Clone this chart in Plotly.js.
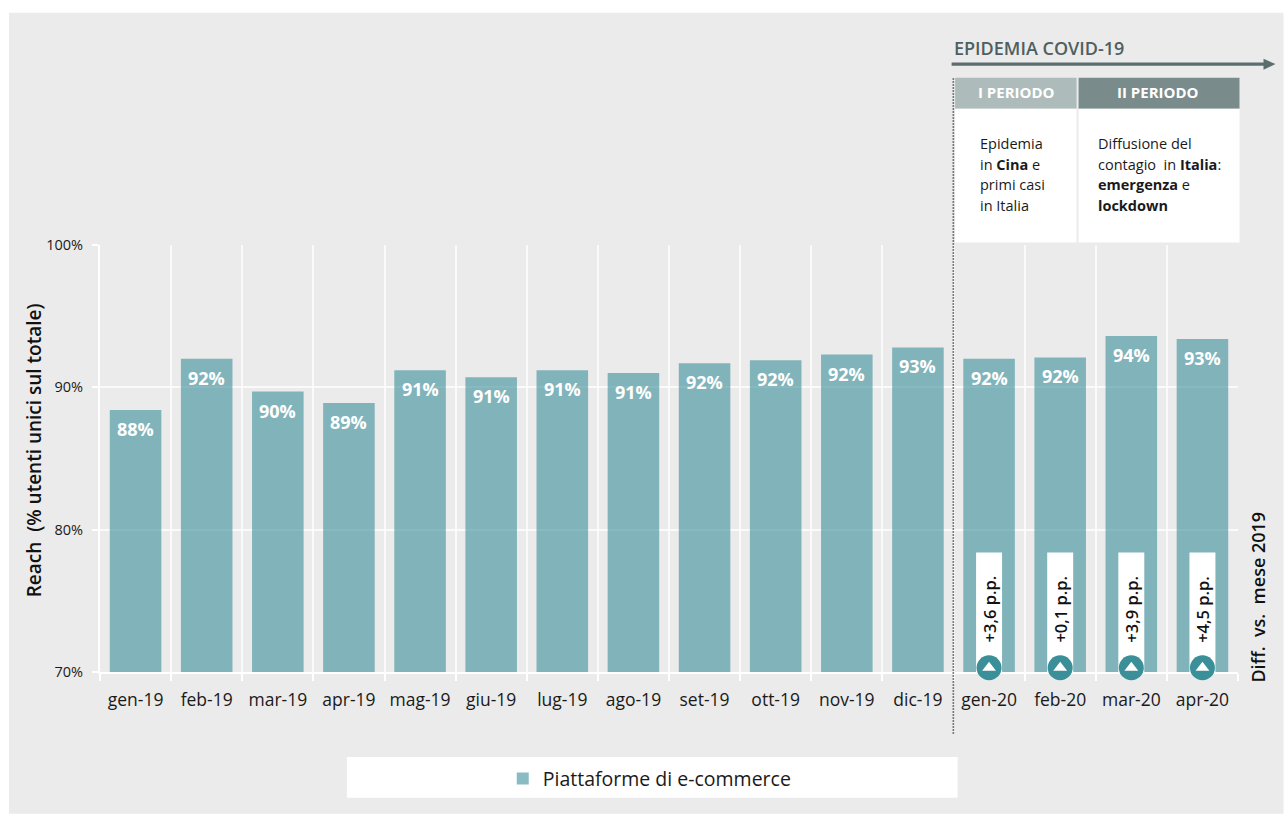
<!DOCTYPE html>
<html>
<head>
<meta charset="utf-8">
<script src="https://cdn.plot.ly/plotly-3.0.1.min.js"></script>
<style>
  html, body { margin: 0; padding: 0; background: #fff; }
  #chart { width: 1284px; height: 814px; }
</style>
</head>
<body>
<div id="chart"></div>
<script>
// Monthly reach of e-commerce platforms, Italy, Jan 2019 - Apr 2020
const months = ['gen-19','feb-19','mar-19','apr-19','mag-19','giu-19','lug-19','ago-19',
                'set-19','ott-19','nov-19','dic-19','gen-20','feb-20','mar-20','apr-20'];
const reach = [88.4,92.0,89.7,88.9,91.2,90.7,91.2,91.0,91.7,91.9,92.3,92.8,92.0,92.1,93.6,93.4];

// Year-on-year differences shown on the 2020 bars
const months2020 = ['gen-20','feb-20','mar-20','apr-20'];
const diffLabels = ['+3,6 p.p.','+0,1 p.p.','+3,9 p.p.','+4,5 p.p.'];
const diffBoxTop = [78.4,78.4,78.4,78.4];
const diffMarkerY = [70.3,70.3,70.3,70.3];

// Text of the two period boxes, one entry per line
const period1Lines = ['Epidemia','in <b>Cina</b> e','primi casi','in Italia'];
const period2Lines = ['Diffusione del','contagio  in <b>Italia</b>:','<b>emergenza</b> e','<b>lockdown</b>'];
const periodLineY = [143,164,184,205];

const W = 1284, H = 814;
const M = {l: 100, r: 1284 - 1238.5, t: 244.5, b: 814 - 672};
const FONT = '"Open Sans", "Noto Sans", sans-serif';
const TEAL = '#3a8f99';
const TEAL_SOFT = 'rgba(58,143,153,0.6)';
const GRID = 'rgba(255,255,255,0.75)';

// Page pixels to paper coordinates, for the decoration around the plot
const px = v => (v - M.l) / (W - M.l - M.r);
const py = v => 1 - (v - M.t) / (H - M.t - M.b);

function box(x0, y0, x1, y1, color, layer) {
  return {type: 'rect', xref: 'paper', yref: 'paper', layer: layer || 'below',
          x0: px(x0), x1: px(x1), y0: py(y0), y1: py(y1),
          fillcolor: color, line: {width: 0}};
}
function note(x, y, text, opts) {
  return Object.assign({xref: 'paper', yref: 'paper', x: px(x), y: py(y), text: text,
    showarrow: false, xanchor: 'left', yanchor: 'middle', align: 'left',
    font: {family: FONT, size: 14.5, color: '#1a1a1a'}}, opts || {});
}

const traces = [
  {type: 'bar', name: 'Piattaforme di e-commerce', x: months, y: reach, width: 0.725,
   marker: {color: TEAL_SOFT, line: {width: 0}}, hoverinfo: 'x+y'},
  {type: 'bar', x: months2020, y: diffBoxTop, width: 0.365, showlegend: false,
   marker: {color: '#ffffff'}, hoverinfo: 'skip'},
  {type: 'scatter', mode: 'markers', x: months2020, y: diffMarkerY, showlegend: false,
   cliponaxis: false, hoverinfo: 'skip',
   marker: {symbol: 'circle', size: 25, color: TEAL, line: {width: 0}}},
  {type: 'scatter', mode: 'markers', x: months2020, y: diffMarkerY, showlegend: false,
   cliponaxis: false, hoverinfo: 'skip',
   marker: {symbol: 'triangle-up', size: 12, color: '#ffffff', line: {width: 0}}}
];

const annotations = [];
// Bar value labels
months.forEach((m, i) => annotations.push({
  xref: 'x', yref: 'y', x: m, y: reach[i], yshift: -19, showarrow: false,
  text: '<b>' + Math.round(reach[i]) + '%</b>',
  font: {family: FONT, size: 18, color: '#ffffff'}
}));
// Rotated differences inside the white boxes
months2020.forEach((m, i) => annotations.push({
  xref: 'x', yref: 'y', x: m, y: 74.4, showarrow: false, textangle: -90,
  text: diffLabels[i], font: {family: FONT, size: 16.5, color: '#111111', weight: 600}
}));
period1Lines.forEach((t, i) => annotations.push(note(978, periodLineY[i], t)));
period2Lines.forEach((t, i) => annotations.push(note(1096, periodLineY[i], t)));
annotations.push(
  note(34, 450, 'Reach  (% utenti unici sul totale)', {textangle: -90, xanchor: 'center',
    font: {family: FONT, size: 19, color: '#111111', weight: 600}}),
  note(1259, 597, 'Diff.  vs.  mese 2019', {textangle: -90, xanchor: 'center',
    font: {family: FONT, size: 18, color: '#111111', weight: 600}}),
  note(952, 47.5, 'EPIDEMIA COVID-19', {font: {family: FONT, size: 18, color: '#4f5f5f', weight: 600}}),
  note(1017, 91.5, '<b>I PERIODO</b>', {xanchor: 'center', font: {family: FONT, size: 15, color: '#ffffff'}}),
  note(1158, 91.5, '<b>II PERIODO</b>', {xanchor: 'center', font: {family: FONT, size: 15, color: '#ffffff'}})
);

const shapes = [
  box(9, 12, 1284, 814, '#ebebeb'),
  box(347, 757, 958, 798, '#ffffff'),
  box(955.5, 77, 1077, 108, '#adbcbb', 'above'),
  box(1079, 77, 1240, 108, '#7a8b8b', 'above'),
  box(955.5, 108, 1077, 242, '#ffffff', 'above'),
  box(1079, 108, 1240, 242, '#ffffff', 'above'),
  // COVID-19 timeline arrow
  {type: 'rect', xref: 'paper', yref: 'paper', layer: 'above', x0: px(952), x1: px(1265),
   y0: py(61.7), y1: py(65), fillcolor: '#5b6e6e', line: {width: 0}},
  {type: 'path', xref: 'paper', yref: 'paper', layer: 'above',
   path: 'M' + px(1264) + ',' + py(58) + ' L' + px(1276) + ',' + py(63.4) + ' L' + px(1264) + ',' + py(69) + ' Z',
   fillcolor: '#5b6e6e', line: {width: 0}},
  // Divider marking the start of the epidemic
  {type: 'line', xref: 'paper', yref: 'paper', layer: 'above', x0: px(953.7), x1: px(953.7),
   y0: py(77.5), y1: py(735), line: {color: '#4a5555', width: 1.6, dash: '1.6px,1.4px'}}
];

const layout = {
  width: W, height: H, margin: M,
  paper_bgcolor: '#ffffff', plot_bgcolor: 'rgba(0,0,0,0)',
  barmode: 'overlay', bargap: 0.27,
  font: {family: FONT, color: '#1a1a1a'},
  xaxis: {type: 'category', categoryorder: 'array', categoryarray: months, layer: 'below traces',
          range: [-0.5, 15.5], tickson: 'boundaries', ticks: 'outside', ticklen: 7, tickwidth: 2,
          tickcolor: '#ffffff', showgrid: true, gridcolor: GRID, gridwidth: 2,
          showline: true, linecolor: '#ffffff', linewidth: 2, tickangle: 0,
          ticklabelstandoff: 11, tickfont: {family: FONT, size: 17.5, color: '#1a1a1a'}, fixedrange: true},
  yaxis: {range: [70, 100], tick0: 70, dtick: 10, ticksuffix: '%', ticks: 'outside', ticklen: 6,
          layer: 'below traces',
          tickwidth: 2, tickcolor: '#ffffff', showgrid: true, gridcolor: GRID, gridwidth: 2,
          showline: true, linecolor: '#ffffff', linewidth: 2, zeroline: false,
          ticklabelstandoff: 6, tickfont: {family: FONT, size: 14.5, color: '#1a1a1a'}, fixedrange: true},
  showlegend: true,
  legend: {orientation: 'h', x: px(650), y: py(779), xanchor: 'center', yanchor: 'middle',
           bgcolor: 'rgba(0,0,0,0)', font: {family: FONT, size: 19.5, color: '#1a1a1a'}},
  shapes: shapes,
  annotations: annotations
};

Plotly.newPlot('chart', traces, layout, {displayModeBar: false, staticPlot: true});
</script>
</body>
</html>
